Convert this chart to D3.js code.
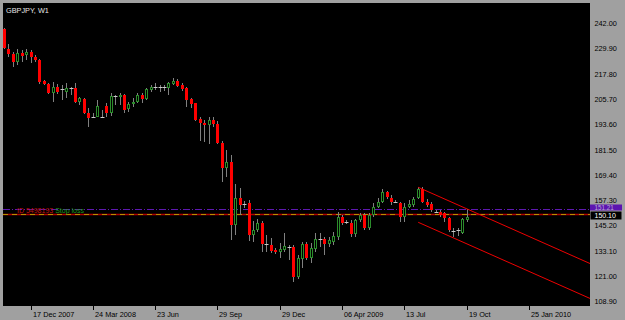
<!DOCTYPE html>
<html>
<head>
<meta charset="utf-8">
<script src="https://cdn.jsdelivr.net/npm/d3@7"></script>
<style>
  body { margin: 0; background: #a0a0a0; }
  svg { display: block; font-family: "Liberation Sans", Arial, sans-serif; }
</style>
</head>
<body>
<svg id="chart" width="625" height="320"></svg>
<script>
// weekly GBPJPY bars (bar 0 = first visible week)
var opens = [238.32, 228.90, 226.36, 222.54, 226.84, 225.88, 227.32, 224.93, 223.64, 213.45,
  212.01, 208.00, 210.87, 209.60, 208.19, 210.01, 210.10, 203.69, 204.98, 198.15,
  196.23, 196.52, 196.52, 201.64, 198.15, 206.42, 206.08, 206.90, 200.06, 202.45,
  203.41, 206.90, 204.84, 209.29, 210.87, 210.87, 210.72, 210.10, 212.16, 213.59,
  211.68, 210.10, 204.98, 202.93, 195.28, 193.65, 192.41, 194.94, 193.03, 183.80,
  171.84, 175.00, 144.73, 157.49, 154.77, 155.10, 139.94, 142.33, 145.83, 135.49,
  135.16, 132.77, 131.67, 132.77, 134.35, 134.35, 120.00, 128.47, 135.49, 129.09,
  133.25, 138.03, 138.03, 135.64, 136.60, 138.99, 148.41, 146.30, 145.83, 140.42,
  147.12, 149.51, 143.15, 149.51, 153.19, 155.87, 160.36, 157.49, 155.87, 155.10,
  148.41, 153.48, 154.29, 157.49, 161.80, 155.87, 154.77, 151.09, 151.09, 150.32,
  147.93, 142.00, 142.33, 141.04, 147.12];
var highs = [238.94, 231.29, 227.61, 228.75, 228.42, 228.90, 228.42, 226.03, 223.97, 214.07,
  212.78, 213.26, 212.01, 211.68, 212.49, 210.87, 212.49, 206.08, 205.32, 200.54,
  198.29, 204.51, 199.72, 202.93, 207.71, 206.90, 207.71, 207.38, 203.69, 205.32,
  207.71, 207.71, 210.10, 211.68, 212.49, 211.68, 211.68, 213.26, 214.88, 214.41,
  212.49, 210.87, 205.32, 203.21, 196.52, 194.94, 196.52, 196.52, 194.46, 184.90,
  180.59, 178.20, 164.19, 162.28, 156.20, 156.68, 146.64, 147.60, 146.64, 139.94,
  138.37, 133.58, 135.97, 140.76, 135.16, 135.16, 130.38, 136.74, 136.74, 135.97,
  140.76, 140.76, 139.13, 139.13, 141.38, 150.94, 149.51, 147.12, 147.12, 147.45,
  150.46, 150.32, 150.32, 155.25, 157.49, 161.80, 161.13, 159.07, 156.68, 155.87,
  155.10, 156.68, 158.26, 162.76, 162.76, 157.02, 155.87, 151.90, 151.90, 151.09,
  148.70, 143.15, 143.29, 147.93, 152.23];
var lows = [228.90, 225.21, 220.43, 221.24, 222.82, 223.64, 222.06, 222.82, 212.16, 211.68,
  207.38, 203.69, 207.38, 204.51, 205.32, 206.90, 203.21, 202.11, 197.81, 191.74,
  195.66, 196.23, 195.75, 196.52, 197.00, 202.11, 202.11, 198.43, 198.91, 201.30,
  202.93, 202.93, 204.51, 208.48, 209.29, 208.48, 208.95, 206.90, 211.68, 210.87,
  208.95, 201.30, 200.54, 194.61, 184.90, 184.56, 183.46, 191.74, 183.32, 165.15,
  167.82, 137.55, 139.94, 149.51, 152.71, 137.07, 136.74, 141.52, 131.96, 131.96,
  131.19, 130.71, 128.80, 131.96, 127.99, 117.61, 118.90, 124.02, 127.99, 126.41,
  131.96, 134.35, 130.38, 134.35, 135.16, 137.55, 144.73, 145.20, 139.13, 139.13,
  146.16, 142.33, 142.33, 148.70, 152.71, 155.10, 157.02, 154.29, 155.10, 146.30,
  146.30, 152.71, 153.48, 157.02, 155.10, 153.48, 151.09, 150.32, 148.70, 146.30,
  141.52, 139.13, 139.46, 140.42, 146.30];
var closes = [229.23, 226.36, 222.54, 226.84, 225.69, 227.32, 225.07, 223.64, 212.97, 212.16,
  207.71, 210.87, 208.19, 209.60, 210.10, 210.01, 203.69, 205.32, 198.15, 195.75,
  196.23, 201.64, 196.52, 198.15, 206.42, 206.42, 206.90, 199.72, 202.59, 203.69,
  206.90, 204.84, 209.62, 210.58, 210.87, 210.87, 210.72, 212.49, 213.59, 211.34,
  209.77, 204.51, 202.59, 194.94, 193.65, 192.41, 194.94, 193.03, 183.80, 171.84,
  175.00, 144.73, 157.49, 154.29, 154.77, 139.94, 142.33, 145.83, 135.49, 135.49,
  132.29, 131.96, 133.25, 134.68, 134.35, 120.00, 128.80, 135.64, 129.09, 133.58,
  138.03, 138.03, 135.49, 137.55, 139.47, 148.55, 145.83, 146.30, 140.42, 147.12,
  149.51, 143.15, 149.51, 153.48, 155.87, 160.36, 157.97, 155.87, 155.87, 148.41,
  153.48, 154.77, 157.02, 161.80, 155.87, 154.29, 151.90, 151.09, 149.51, 147.93,
  142.33, 142.00, 142.33, 147.45, 148.70];

// time axis: bar index of each label and its text
var timeTickBars = [6, 20, 34, 48, 62, 76, 90, 104, 118];
var timeTickLabels = ['17 Dec 2007', '24 Mar 2008', '23 Jun', '29 Sep', '29 Dec',
  '06 Apr 2009', '13 Jul', '19 Oct', '25 Jan 2010'];

// price axis
var priceTicks = [242.00, 229.90, 217.80, 205.70, 193.60, 181.50, 169.40, 157.30, 145.20, 133.10, 121.00, 108.90];

// horizontal levels (bid and the stop loss / ask line)
var bidPrice = 150.10;
var bidLabel = '150.10';
var stopPrice = 152.25;
var stopLabel = '151.21';
var stopText = ['ID 5498193 ', 'Stop loss'];

// regression channel, two anchor bars with upper and lower prices
var channelBars = [93, 104];
var channelUpper = [162.76, 152.37];
var channelLower = [146.02, 135.64];

var svg = d3.select('#chart');
var frame = { left: 3, top: 3, right: 590, bottom: 306 };

svg.append('rect')
  .attr('width', 625)
  .attr('height', 320)
  .style('fill', '#a0a0a0');

svg.append('rect')
  .attr('x', frame.left)
  .attr('y', frame.top)
  .attr('width', frame.right - frame.left)
  .attr('height', frame.bottom - frame.top)
  .style('fill', '#000');

// scales
var x = d3.scaleLinear().domain([0, 131.6]).range([4.3, 590]),
    y = d3.scaleLinear().domain([108.9, 242]).range([299.9, 21.6]);

svg.append('clipPath')
  .attr('id', 'plotclip')
  .append('rect')
  .attr('x', frame.left)
  .attr('y', frame.top)
  .attr('width', frame.right - frame.left)
  .attr('height', frame.bottom - frame.top);

var plot = svg.append('g').attr('clip-path', 'url(#plotclip)');

var bars = opens.map(function(o, i) {
  return { i: i, o: o, h: highs[i], l: lows[i], c: closes[i] };
});

function px(i) { return Math.floor(x(i)) + 0.5; }

// horizontal lines sit behind the candles
plot.append('line')
  .attr('x1', frame.left).attr('x2', frame.right)
  .attr('y1', Math.round(y(stopPrice)) + 0.5).attr('y2', Math.round(y(stopPrice)) + 0.5)
  .style('stroke', '#5e18b0')
  .style('stroke-dasharray', '7,2,1,2');

plot.append('line')
  .attr('x1', frame.left).attr('x2', frame.right)
  .attr('y1', Math.round(y(bidPrice)) + 0.5).attr('y2', Math.round(y(bidPrice)) + 0.5)
  .style('stroke', '#b00000')
  .style('stroke-width', 1.5);

plot.append('line')
  .attr('x1', frame.left).attr('x2', frame.right)
  .attr('y1', Math.round(y(bidPrice)) + 0.5).attr('y2', Math.round(y(bidPrice)) + 0.5)
  .style('stroke', '#b89000')
  .style('stroke-dasharray', '5,4');

var stopLabelText = plot.append('text')
  .attr('x', 17)
  .attr('y', Math.round(y(stopPrice)) + 3.5)
  .style('font-size', '7px');
stopLabelText.append('tspan').style('fill', '#c01010').text(stopText[0]);
stopLabelText.append('tspan').style('fill', '#1f9a1f').text(stopText[1]);

// wicks
plot.selectAll('.wick')
  .data(bars)
  .enter()
  .append('line')
  .attr('class', 'wick')
  .attr('x1', function(d) { return px(d.i); })
  .attr('x2', function(d) { return px(d.i); })
  .attr('y1', function(d) { return Math.round(y(d.h)); })
  .attr('y2', function(d) { return Math.round(y(d.l)); })
  .style('stroke', '#808080');

// bodies
var bodies = bars.filter(function(d) { return d.o !== d.c; });

plot.selectAll('.body')
  .data(bodies)
  .enter()
  .append('rect')
  .attr('class', 'body')
  .attr('x', function(d) { return d.c > d.o ? px(d.i) - 1 : px(d.i) - 1.5; })
  .attr('y', function(d) {
    var top = Math.round(y(Math.max(d.o, d.c)));
    return d.c > d.o ? top + 0.5 : top;
  })
  .attr('width', function(d) { return d.c > d.o ? 2 : 3; })
  .attr('height', function(d) {
    var h = Math.max(1, Math.round(y(Math.min(d.o, d.c))) - Math.round(y(Math.max(d.o, d.c))));
    return d.c > d.o ? Math.max(1, h - 1) : h;
  })
  .style('fill', function(d) { return d.c > d.o ? '#000' : '#ff0000'; })
  .style('stroke', function(d) { return d.c > d.o ? '#2c8c2c' : 'none'; });

// dojis
plot.selectAll('.doji')
  .data(bars.filter(function(d) { return d.o === d.c; }))
  .enter()
  .append('line')
  .attr('class', 'doji')
  .attr('x1', function(d) { return px(d.i) - 2; })
  .attr('x2', function(d) { return px(d.i) + 2; })
  .attr('y1', function(d) { return Math.round(y(d.o)) + 0.5; })
  .attr('y2', function(d) { return Math.round(y(d.o)) + 0.5; })
  .style('stroke', '#c8c8c8');

// channel rays, extended to the right edge
var rayEnd = x.invert(frame.right);
function extend(prices) {
  var slope = (prices[1] - prices[0]) / (channelBars[1] - channelBars[0]);
  return [
    [channelBars[0], prices[0]],
    [rayEnd, prices[0] + slope * (rayEnd - channelBars[0])]
  ];
}
var rayLine = d3.line()
  .x(function(d) { return x(d[0]); })
  .y(function(d) { return y(d[1]); });

plot.selectAll('.channel')
  .data([extend(channelUpper), extend(channelLower)])
  .enter()
  .append('path')
  .attr('class', 'channel')
  .attr('d', rayLine)
  .style('fill', 'none')
  .style('stroke', '#ee0000');

// title
svg.append('text')
  .attr('x', 6)
  .attr('y', 13.3)
  .style('font-size', '7.3px')
  .style('fill', '#e6e6e6')
  .text('GBPJPY, W1');

// time axis
var timeAxis = svg.append('g');
timeAxis.selectAll('line')
  .data(timeTickBars)
  .enter()
  .append('line')
  .attr('x1', function(d) { return px(d); })
  .attr('x2', function(d) { return px(d); })
  .attr('y1', frame.bottom)
  .attr('y2', frame.bottom + 4)
  .style('stroke', '#000');

timeAxis.selectAll('text')
  .data(timeTickBars)
  .enter()
  .append('text')
  .attr('x', function(d) { return px(d) + 1.5; })
  .attr('y', 317)
  .style('font-size', '7.3px')
  .style('fill', '#000')
  .text(function(d, i) { return timeTickLabels[i]; });

// price axis
svg.append('g')
  .selectAll('text')
  .data(priceTicks)
  .enter()
  .append('text')
  .attr('x', 594.5)
  .attr('y', function(d) { return y(d) + 4.4; })
  .style('font-size', '7.3px')
  .style('fill', '#000')
  .text(function(d) { return d.toFixed(2); });

// price boxes on the axis
var stopY = Math.round(y(stopPrice));
svg.append('rect')
  .attr('x', frame.right)
  .attr('y', stopY - 4.5)
  .attr('width', 32)
  .attr('height', 6)
  .style('fill', '#5c14b0');
svg.append('text')
  .attr('x', 594.5)
  .attr('y', stopY + 0.6)
  .style('font-size', '6.3px')
  .style('fill', '#b8a8d0')
  .text(stopLabel);

var bidY = Math.round(y(bidPrice));
svg.append('rect')
  .attr('x', frame.right + 0.5)
  .attr('y', bidY - 2.5)
  .attr('width', 31)
  .attr('height', 8)
  .style('fill', '#000');
svg.append('text')
  .attr('x', 594.5)
  .attr('y', bidY + 4.3)
  .style('font-size', '7px')
  .style('fill', '#fff')
  .text(bidLabel);
</script>
</body>
</html>
